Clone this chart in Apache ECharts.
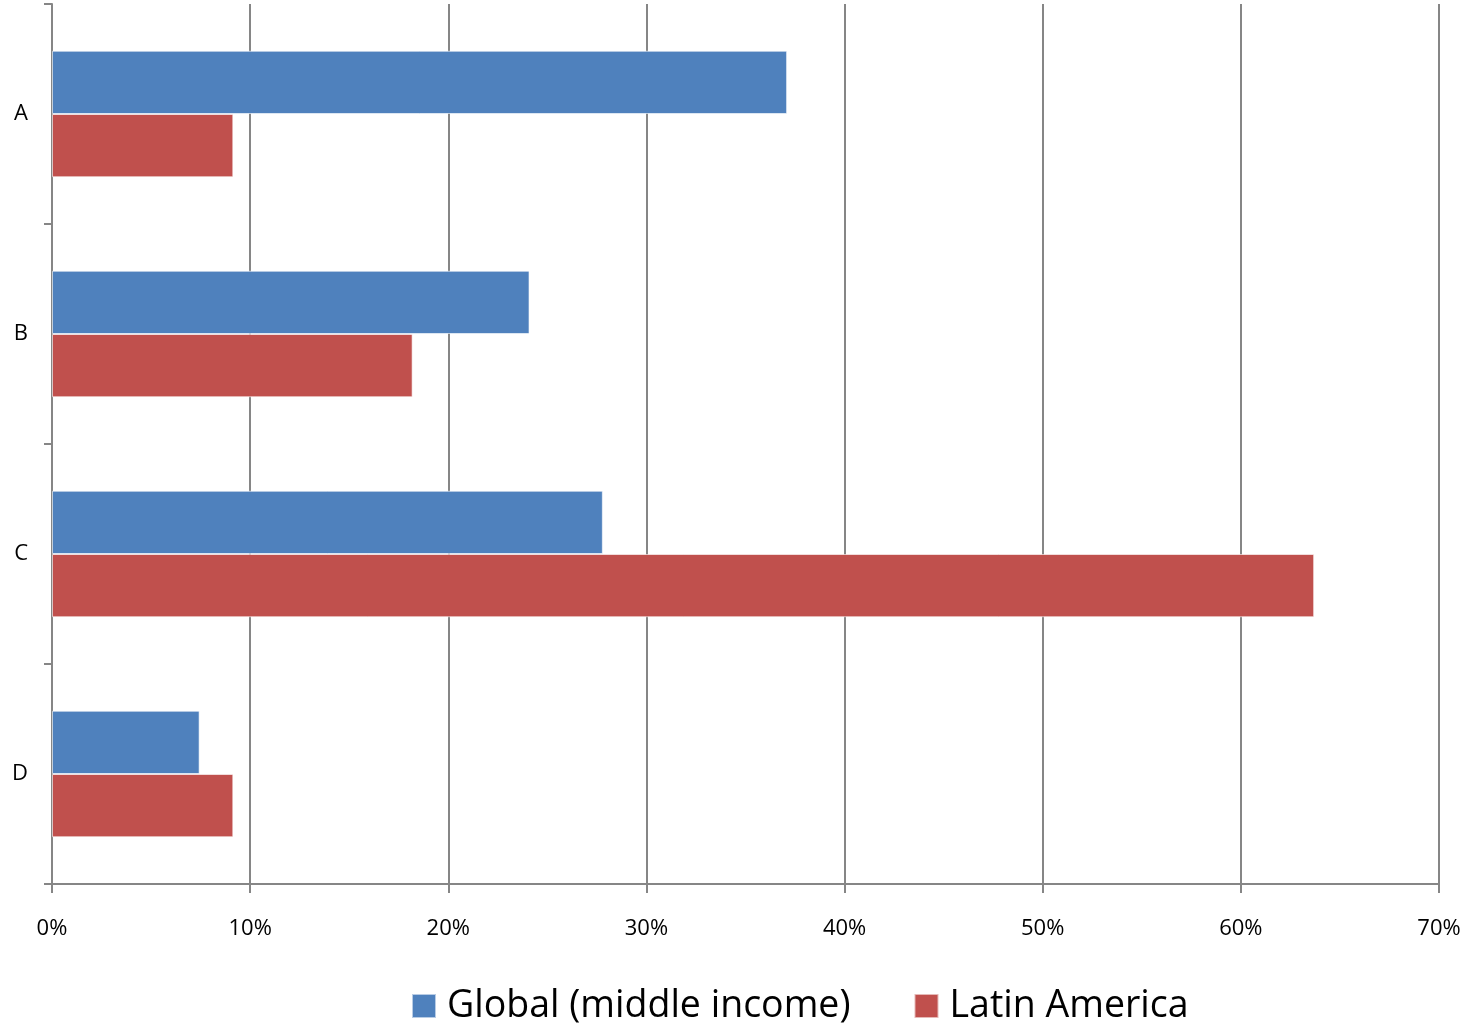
<!DOCTYPE html>
<html>
<head>
<meta charset="utf-8">
<script src="https://cdn.jsdelivr.net/npm/echarts@6/dist/echarts.min.js"></script>
<style>html,body{margin:0;padding:0;background:#fff}#c{width:1470px;height:1030px}</style>
</head>
<body>
<div id="c"></div>
<script>
const categories = ['A', 'B', 'C', 'D'];
const seriesNames = ['Global (middle income)', 'Latin America'];
const globalValues = [37.1, 24.1, 27.8, 7.45];
const latinValues = [9.15, 18.2, 63.7, 9.15];
const xTicks = [0, 10, 20, 30, 40, 50, 60, 70];

const chart = echarts.init(document.getElementById('c'));
const axisGray = '#868686';
chart.setOption({
  animation: false,
  grid: { left: 52, right: 31, top: 4, bottom: 146, containLabel: false },
  legend: {
    data: seriesNames,
    bottom: 0,
    left: 406,
    itemWidth: 24,
    itemHeight: 24,
    itemGap: 63,
    icon: 'rect',
    textStyle: { fontFamily: 'Open Sans', fontSize: 37.5, color: '#000', padding: [0, 0, 0, 6] }
  },
  xAxis: {
    type: 'value',
    min: xTicks[0],
    max: xTicks[xTicks.length - 1],
    interval: 10,
    axisLine: { show: true, lineStyle: { color: axisGray, width: 2 } },
    axisTick: { show: true, length: 9, lineStyle: { color: axisGray, width: 2 } },
    splitLine: { show: true, lineStyle: { color: axisGray, width: 2 } },
    axisLabel: { formatter: '{value}%', fontFamily: 'Open Sans', fontSize: 22, color: '#000', margin: 34 }
  },
  yAxis: {
    type: 'category',
    data: categories,
    inverse: true,
    axisLine: { show: true, lineStyle: { color: axisGray, width: 2 } },
    axisTick: { show: true, length: 8, lineStyle: { color: axisGray, width: 2 } },
    axisLabel: { fontFamily: 'Open Sans', fontSize: 22, color: '#000', margin: 24, lineHeight: 26, padding: [4, 0, 0, 0] }
  },
  series: [
    {
      name: seriesNames[0], type: 'bar', data: globalValues,
      barGap: '0%', barCategoryGap: '42.5%',
      itemStyle: { color: '#4F81BD', borderColor: 'rgba(255,255,255,0.6)', borderWidth: 1 }
    },
    {
      name: seriesNames[1], type: 'bar', data: latinValues,
      barGap: '0%', barCategoryGap: '42.5%',
      itemStyle: { color: '#C0504D', borderColor: 'rgba(255,255,255,0.6)', borderWidth: 1 }
    }
  ]
});
</script>
</body>
</html>
